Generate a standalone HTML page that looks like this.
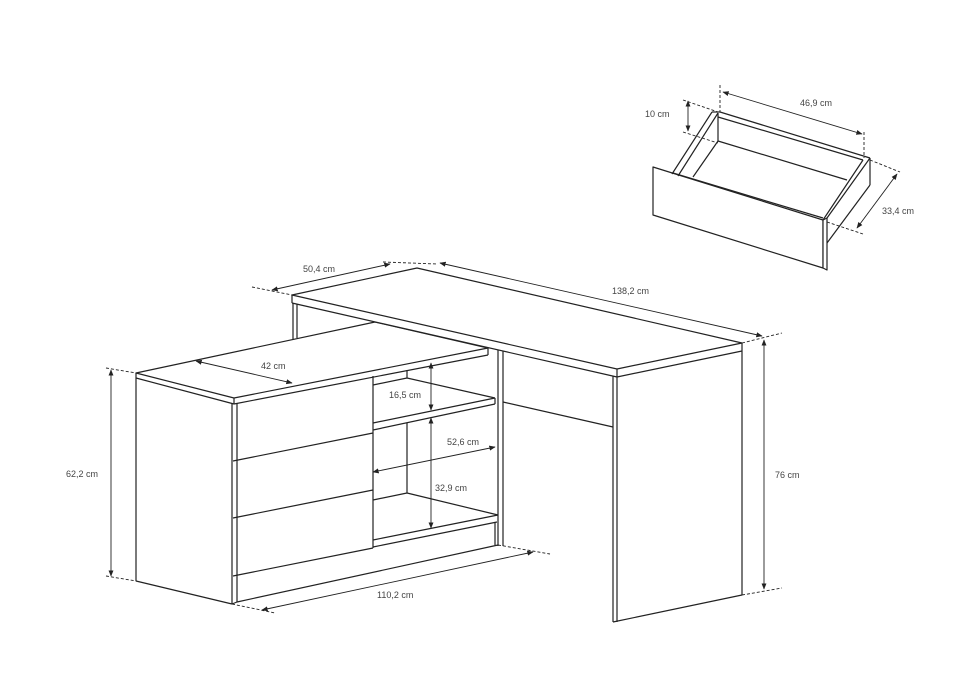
<!DOCTYPE html>
<html><head><meta charset="utf-8"><style>
html,body{margin:0;padding:0;background:#fff}
svg{display:block}
text{font-family:"Liberation Sans",sans-serif;font-size:9px;fill:#444}
</style></head><body>
<svg width="960" height="675" viewBox="0 0 960 675" xmlns="http://www.w3.org/2000/svg">
<defs>
<marker id="a" viewBox="0 0 10 10" refX="9" refY="5" markerWidth="7" markerHeight="7" orient="auto-start-reverse"><path d="M0,1 L10,5 L0,9 z" fill="#222"/></marker>
</defs>
<g stroke="#222" stroke-width="1.2" fill="none" stroke-linejoin="round">
<!-- back left leg -->
<line x1="293" y1="303" x2="293" y2="339"/>
<line x1="297" y1="304" x2="297" y2="338"/>
<!-- cabinet top -->
<polygon points="136,373 375,322 488,348 234,398" fill="#fff"/>
<line x1="136" y1="373" x2="136" y2="378"/>
<line x1="136" y1="378" x2="234" y2="404"/>
<line x1="234" y1="398" x2="234" y2="404"/>
<line x1="234" y1="404" x2="488" y2="355"/>
<line x1="488" y1="348" x2="488" y2="355"/>
<!-- desk top (drawn over cabinet back) -->
<polygon points="292,295 417,268 742,343 742,351 617,377 292,303" fill="#fff" stroke="none"/>
<polygon points="292,295 417,268 742,343 617,369"/>
<line x1="292" y1="295" x2="292" y2="303"/>
<line x1="292" y1="303" x2="617" y2="377"/>
<line x1="617" y1="369" x2="617" y2="377"/>
<line x1="742" y1="343" x2="742" y2="351"/>
<line x1="617" y1="377" x2="742" y2="351"/>
<!-- right leg panel -->
<line x1="613" y1="376" x2="613" y2="622"/>
<line x1="617" y1="377" x2="617" y2="622"/>
<line x1="742" y1="351" x2="742" y2="595"/>
<line x1="613" y1="622" x2="742" y2="595"/>
<!-- middle post & modesty -->
<line x1="498" y1="350" x2="498" y2="546"/>
<line x1="503" y1="351" x2="503" y2="546"/>
<line x1="503" y1="402" x2="613" y2="427"/>
<!-- cabinet body -->
<line x1="136" y1="378" x2="136" y2="581"/>
<line x1="136" y1="581" x2="232" y2="604"/>
<line x1="232" y1="403" x2="232" y2="604"/>
<line x1="237" y1="403" x2="237" y2="602"/>
<line x1="237" y1="602" x2="498" y2="545"/>
<line x1="232" y1="604" x2="237" y2="602"/>
<line x1="373" y1="376" x2="373" y2="548"/>
<line x1="233" y1="461" x2="373" y2="433"/>
<line x1="233" y1="518" x2="373" y2="490"/>
<line x1="233" y1="576" x2="373" y2="548"/>
<!-- open shelf section -->
<line x1="407" y1="370" x2="407" y2="378"/>
<line x1="407" y1="423" x2="407" y2="493"/>
<line x1="373" y1="385" x2="407" y2="378"/>
<line x1="407" y1="378" x2="495" y2="398"/>
<line x1="373" y1="423" x2="495" y2="398"/>
<line x1="373" y1="430" x2="495" y2="404"/>
<line x1="495" y1="398" x2="495" y2="404"/>
<line x1="373" y1="500" x2="407" y2="493"/>
<line x1="407" y1="493" x2="498" y2="515"/>
<line x1="373" y1="540" x2="498" y2="515"/>
<line x1="373" y1="547" x2="497" y2="522"/>
<line x1="495" y1="522" x2="495" y2="545"/>
<!-- drawer -->
<polygon points="653,167 823,220 823,268 653,215" fill="#fff"/>
<polygon points="823,220 827,218 827,270 823,268" fill="#fff"/>
<line x1="672" y1="174" x2="712" y2="112"/>
<line x1="678" y1="176" x2="718" y2="113"/>
<line x1="712" y1="112" x2="720" y2="112"/>
<line x1="720" y1="112" x2="870" y2="158"/>
<line x1="718" y1="117" x2="863" y2="160"/>
<line x1="718" y1="113" x2="718" y2="141"/>
<line x1="718" y1="141" x2="847" y2="180"/>
<line x1="718" y1="141" x2="693" y2="177"/>
<line x1="870" y1="158" x2="827" y2="218"/>
<line x1="863" y1="160" x2="823" y2="220"/>
<line x1="870" y1="158" x2="870" y2="185"/>
<line x1="870" y1="185" x2="827" y2="243"/>
<line x1="673" y1="173" x2="823" y2="218"/>
</g>
<!-- dimensions -->
<g stroke="#222" stroke-width="0.9" fill="none">
<g stroke-dasharray="3,2">
<line x1="252" y1="287" x2="292" y2="295"/>
<line x1="383" y1="262" x2="437" y2="264"/>
<line x1="742" y1="343" x2="782" y2="333"/>
<line x1="742" y1="595" x2="782" y2="588"/>
<line x1="106" y1="368" x2="136" y2="373"/>
<line x1="106" y1="576" x2="136" y2="581"/>
<line x1="232" y1="604" x2="275" y2="613"/>
<line x1="498" y1="545" x2="550" y2="554"/>
<line x1="683" y1="100" x2="718" y2="112"/>
<line x1="683" y1="132" x2="718" y2="143"/>
<line x1="720" y1="85" x2="720" y2="112"/>
<line x1="864" y1="132" x2="864" y2="158"/>
<line x1="870" y1="160" x2="900" y2="172"/>
<line x1="827" y1="222" x2="863" y2="234"/>
</g>
<line x1="272" y1="290" x2="390" y2="264" marker-start="url(#a)" marker-end="url(#a)"/>
<line x1="440" y1="263" x2="762" y2="336" marker-start="url(#a)" marker-end="url(#a)"/>
<line x1="196" y1="361" x2="292" y2="383" marker-start="url(#a)" marker-end="url(#a)"/>
<line x1="111" y1="370" x2="111" y2="576" marker-start="url(#a)" marker-end="url(#a)"/>
<line x1="262" y1="610" x2="533" y2="552" marker-start="url(#a)" marker-end="url(#a)"/>
<line x1="431" y1="363" x2="431" y2="410" marker-start="url(#a)" marker-end="url(#a)"/>
<line x1="431" y1="418" x2="431" y2="528" marker-start="url(#a)" marker-end="url(#a)"/>
<line x1="373" y1="472" x2="495" y2="447" marker-start="url(#a)" marker-end="url(#a)"/>
<line x1="764" y1="340" x2="764" y2="589" marker-start="url(#a)" marker-end="url(#a)"/>
<line x1="688" y1="101" x2="688" y2="131" marker-start="url(#a)" marker-end="url(#a)"/>
<line x1="723" y1="92" x2="862" y2="134" marker-start="url(#a)" marker-end="url(#a)"/>
<line x1="897" y1="174" x2="857" y2="228" marker-start="url(#a)" marker-end="url(#a)"/>
</g>
<g>
<text x="303" y="272">50,4 cm</text>
<text x="612" y="294">138,2 cm</text>
<text x="261" y="369">42 cm</text>
<text x="389" y="398">16,5 cm</text>
<text x="447" y="445">52,6 cm</text>
<text x="435" y="491">32,9 cm</text>
<text x="66" y="477">62,2 cm</text>
<text x="377" y="598">110,2 cm</text>
<text x="775" y="478">76 cm</text>
<text x="645" y="117">10 cm</text>
<text x="800" y="106">46,9 cm</text>
<text x="882" y="214">33,4 cm</text>
</g>
</svg>
</body></html>
